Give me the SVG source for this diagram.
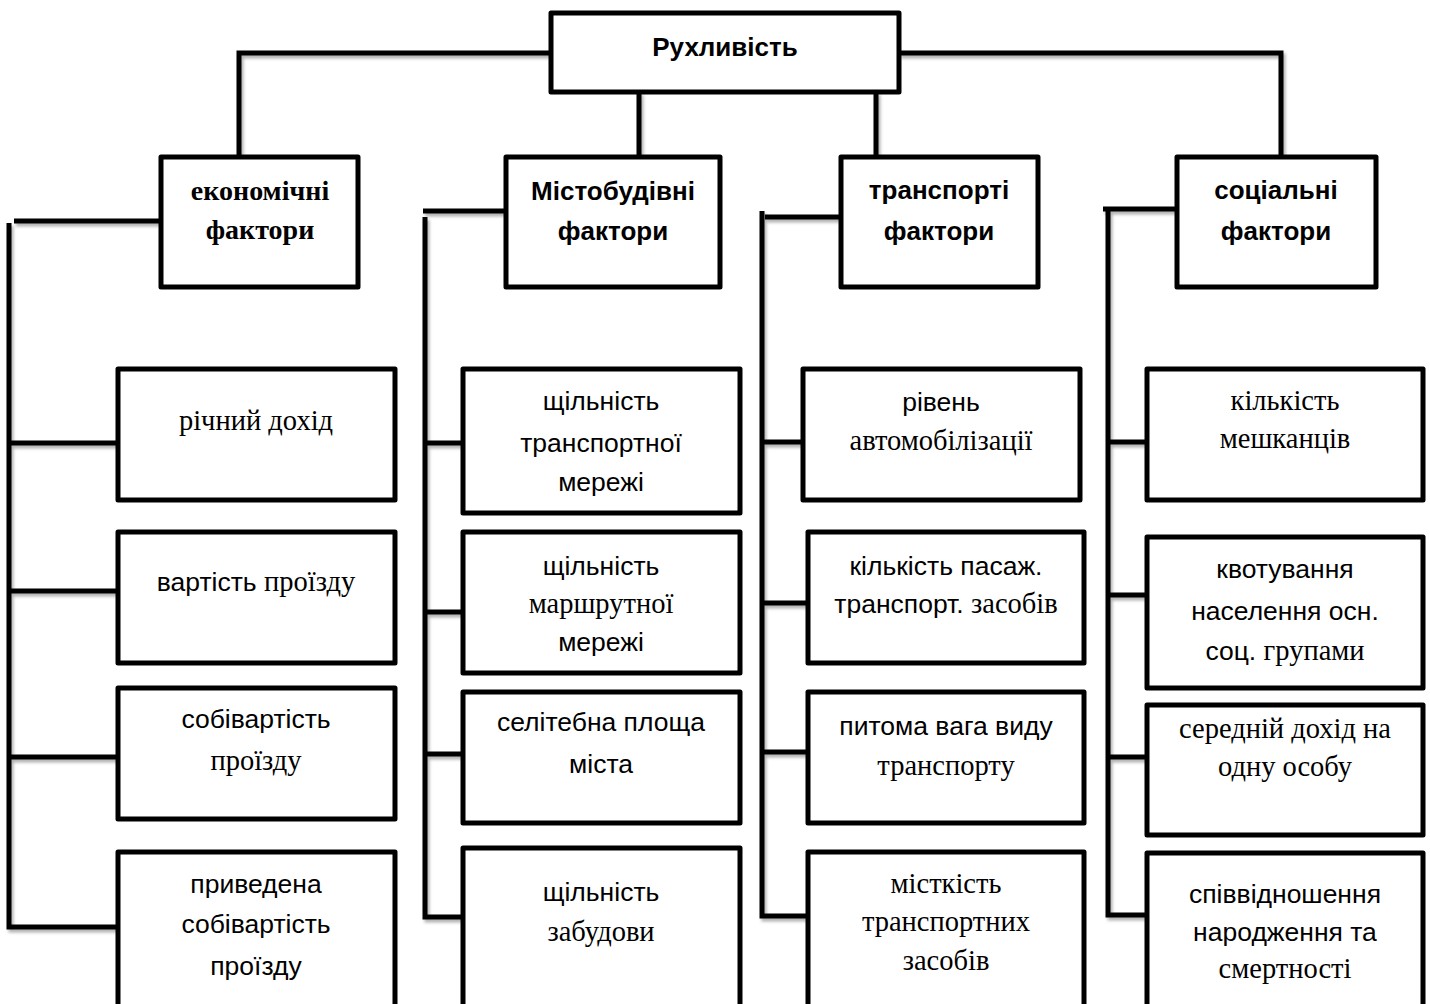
<svg xmlns="http://www.w3.org/2000/svg" width="1430" height="1004" viewBox="0 0 1430 1004">
<defs>
<filter id="sh" x="-5%" y="-5%" width="110%" height="110%">
<feDropShadow dx="2" dy="3" stdDeviation="1.5" flood-color="#000" flood-opacity="0.3"/>
</filter>
<style>
.box{fill:#fff;stroke:#000;stroke-width:5;stroke-linejoin:round}
.ln{fill:none;stroke:#000;stroke-width:5;stroke-linejoin:miter}
text{text-anchor:middle;fill:#000}
.s{font-family:"Liberation Sans",Arial,sans-serif;font-size:26.5px}
.r{font-family:"Liberation Serif","Times New Roman",serif;font-size:28.5px}
.hb{font-family:"Liberation Sans",Arial,sans-serif;font-size:26px;font-weight:bold}
.hr{font-family:"Liberation Serif","Times New Roman",serif;font-size:28px;font-weight:bold}
</style>
</defs>
<rect width="1430" height="1004" fill="#fff"/>
<g id="connectors" class="ln" filter="url(#sh)">
<path d="M551,53 H239 V157"/>
<path d="M899,53 H1281 V157"/>
<path d="M639,92 V157"/>
<path d="M876,92 V157"/>
<path d="M161,221 H14"/>
<path d="M9,223 V927 H118"/>
<path d="M9,443 H118"/>
<path d="M9,591 H118"/>
<path d="M9,757 H118"/>
<path d="M506,211 H423"/>
<path d="M425,217 V917 H463"/>
<path d="M425,443 H463"/>
<path d="M425,612 H463"/>
<path d="M425,754 H463"/>
<path d="M841,217 H765"/>
<path d="M762,211 V916 H808"/>
<path d="M762,442 H803"/>
<path d="M762,603 H808"/>
<path d="M762,752 H808"/>
<path d="M1177,209 H1103"/>
<path d="M1108,209 V915 H1147"/>
<path d="M1108,442 H1147"/>
<path d="M1108,595 H1147"/>
<path d="M1108,757 H1147"/>
</g>
<g id="root"><rect class="box" x="551" y="13" width="348" height="79"/><text class="hb" x="725" y="56">Рухливість</text></g>
<g id="econ"><rect class="box" x="161" y="157" width="197" height="130"/><text class="hr" x="260" y="200">економічні</text><text class="hr" x="260" y="239">фактори</text></g>
<g id="urban"><rect class="box" x="506" y="157" width="214" height="130"/><text class="hb" x="613" y="200">Містобудівні</text><text class="hb" x="613" y="240">фактори</text></g>
<g id="transport"><rect class="box" x="841" y="157" width="197" height="130"/><text class="hb" x="939" y="199">транспорті</text><text class="hb" x="939" y="240">фактори</text></g>
<g id="social"><rect class="box" x="1177" y="157" width="199" height="130"/><text class="hb" x="1276" y="199">соціальні</text><text class="hb" x="1276" y="240">фактори</text></g>

<g id="e1"><rect class="box" x="118" y="369" width="277" height="131"/><text class="r" x="256" y="430">річний дохід</text></g>
<g id="e2"><rect class="box" x="118" y="532" width="277" height="131"/><text x="256" y="591"><tspan class="s">вартість </tspan><tspan class="r">проїзду</tspan></text></g>
<g id="e3"><rect class="box" x="118" y="688" width="277" height="131"/><text class="s" x="256" y="728">собівартість</text><text class="r" x="256" y="770">проїзду</text></g>
<g id="e4"><rect class="box" x="118" y="852" width="277" height="160"/><text class="s" x="256" y="893">приведена</text><text class="s" x="256" y="933">собівартість</text><text class="s" x="256" y="975">проїзду</text></g>

<g id="u1"><rect class="box" x="463" y="369" width="277" height="144"/><text class="s" x="601" y="410">щільність</text><text class="s" x="601" y="452">транспортної</text><text class="s" x="601" y="491">мережі</text></g>
<g id="u2"><rect class="box" x="463" y="532" width="277" height="141"/><text class="s" x="601" y="575">щільність</text><text class="r" x="601" y="613">маршрутної</text><text class="s" x="601" y="651">мережі</text></g>
<g id="u3"><rect class="box" x="463" y="692" width="277" height="131"/><text class="s" x="601" y="731">селітебна площа</text><text class="s" x="601" y="773">міста</text></g>
<g id="u4"><rect class="box" x="463" y="848" width="277" height="164"/><text class="s" x="601" y="901">щільність</text><text class="r" x="601" y="941">забудови</text></g>

<g id="t1"><rect class="box" x="803" y="369" width="277" height="131"/><text class="s" x="941" y="411">рівень</text><text class="r" x="941" y="450">автомобілізації</text></g>
<g id="t2"><rect class="box" x="808" y="532" width="276" height="131"/><text class="s" x="946" y="575">кількість пасаж.</text><text x="946" y="613"><tspan class="s">транспорт. </tspan><tspan class="r">засобів</tspan></text></g>
<g id="t3"><rect class="box" x="808" y="692" width="276" height="131"/><text class="s" x="946" y="735">питома вага виду</text><text class="r" x="946" y="775">транспорту</text></g>
<g id="t4"><rect class="box" x="808" y="852" width="276" height="160"/><text class="r" x="946" y="893">місткість</text><text class="r" x="946" y="931">транспортних</text><text class="r" x="946" y="970">засобів</text></g>

<g id="s1"><rect class="box" x="1147" y="369" width="276" height="131"/><text class="r" x="1285" y="410">кількість</text><text class="r" x="1285" y="448">мешканців</text></g>
<g id="s2"><rect class="box" x="1147" y="537" width="276" height="151"/><text class="s" x="1285" y="578">квотування</text><text class="s" x="1285" y="620">населення осн.</text><text x="1285" y="660"><tspan class="s">соц. </tspan><tspan class="r">групами</tspan></text></g>
<g id="s3"><rect class="box" x="1147" y="705" width="276" height="130"/><text class="r" x="1285" y="738">середній дохід на</text><text class="r" x="1285" y="776">одну особу</text></g>
<g id="s4"><rect class="box" x="1147" y="853" width="276" height="159"/><text class="s" x="1285" y="903">співвідношення</text><text class="s" x="1285" y="941">народження та</text><text class="r" x="1285" y="978">смертності</text></g>
</svg>
